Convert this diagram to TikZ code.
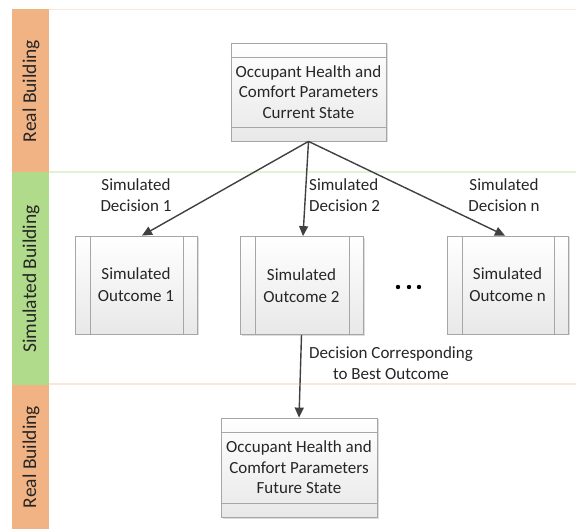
\documentclass[tikz,border=0pt]{standalone}
\usepackage{fontspec}
\setmainfont{Carlito}
\usetikzlibrary{arrows.meta,shadows,calc}
\definecolor{bandorange}{HTML}{F2B384}
\definecolor{bandgreen}{HTML}{B0DB8A}
\definecolor{lineorange}{HTML}{FBE6D8}
\definecolor{linegreen}{HTML}{E3F2D6}
\definecolor{txt}{HTML}{262626}
\definecolor{arr}{HTML}{404040}
\tikzset{
  card/.style={draw=black!35, line width=0.8pt, top color=white, bottom color=black!9,
    drop shadow={shadow xshift=1.5pt, shadow yshift=-1.5pt, fill=black!22, opacity=0.6},
    text=txt, align=center, font=\fontsize{17}{20.5}\selectfont, inner sep=0pt},
  divider/.style={draw=black!35, line width=0.8pt},
  conn/.style={draw=arr, line width=1.4pt, -{Triangle[length=10pt,width=9pt]}},
  lbl/.style={text=txt, font=\fontsize{17}{20.5}\selectfont, inner sep=0pt},
  bandlbl/.style={text=black!85, font=\fontsize{19.5}{22}\selectfont, rotate=90, inner sep=0pt},
  band/.style={draw=none}
}
\begin{document}
\begin{tikzpicture}[x=1pt,y=-1pt]
\useasboundingbox (0,0) rectangle (576,529);
% bands
\fill[band, bandorange] (12,9) rectangle (49,172);
\fill[band, bandgreen] (12,172) rectangle (49,385);
\fill[band, bandorange] (12,385) rectangle (49,529);
\draw[lineorange, line width=1.2pt] (49,9.5) -- (576,9.5);
\draw[linegreen, line width=1.2pt] (49,172) -- (576,172);
\draw[lineorange, line width=1.2pt] (49,384) -- (576,384);
\node[bandlbl] (b1) at (31,91) {Real Building};
\node[bandlbl] (b2) at (31,279) {Simulated Building};
\node[bandlbl] (b3) at (31,457) {Real Building};
% top box
\node[card, minimum width=155pt, minimum height=98pt] (top) at (308.5,92)
  {Occupant Health and\\Comfort Parameters\\Current State};
\draw[divider] ($(top.north west)+(0,15)$) -- ($(top.north east)+(0,15)$);
\draw[divider] ($(top.south west)+(0,-14)$) -- ($(top.south east)+(0,-14)$);
% outcomes
\node[card, minimum width=122pt, minimum height=98pt, font=\fontsize{17}{22}\selectfont] (o1) at (136,285) {Simulated\\Outcome 1};
\node[card, minimum width=123pt, minimum height=98pt, font=\fontsize{17}{22}\selectfont] (o2) at (301.5,285.5) {Simulated\\Outcome 2};
\node[card, minimum width=121pt, minimum height=98pt, font=\fontsize{17}{22}\selectfont] (on) at (507.5,285) {Simulated\\Outcome n};
\foreach \n in {o1,o2,on}{
  \draw[divider] ($(\n.north west)+(16,0)$) -- ($(\n.south west)+(16,0)$);
  \draw[divider] ($(\n.north east)+(-14,0)$) -- ($(\n.south east)+(-14,0)$);
}
% bottom box
\node[card, minimum width=156pt, minimum height=99pt] (bot) at (299,467.5)
  {Occupant Health and\\Comfort Parameters\\Future State};
\draw[divider] ($(bot.north west)+(0,15)$) -- ($(bot.north east)+(0,15)$);
\draw[divider] ($(bot.south west)+(0,-14)$) -- ($(bot.south east)+(0,-14)$);
% connectors
\draw[conn] (top.south) -- ([xshift=6pt]o1.north);
\draw[conn] (top.south) -- ([xshift=1.5pt]o2.north);
\draw[conn] (top.south) -- ([xshift=-2.5pt]on.north);
\draw[conn] (o2.south) -- (bot.north);
% labels
\node[lbl, align=center] (l1) at (136,195) {Simulated\\Decision 1};
\node[lbl, align=left, anchor=west] (l2) at (309,195) {Simulated\\Decision 2};
\node[lbl, align=center] (ln) at (504,195) {Simulated\\Decision n};
\node[lbl, align=center] (lb) at (391,363) {Decision Corresponding\\to Best Outcome};
% dots
\fill[black] (398,287) circle (2.2) (409,287) circle (2.2) (419,287) circle (2.2);
\end{tikzpicture}
\end{document}
